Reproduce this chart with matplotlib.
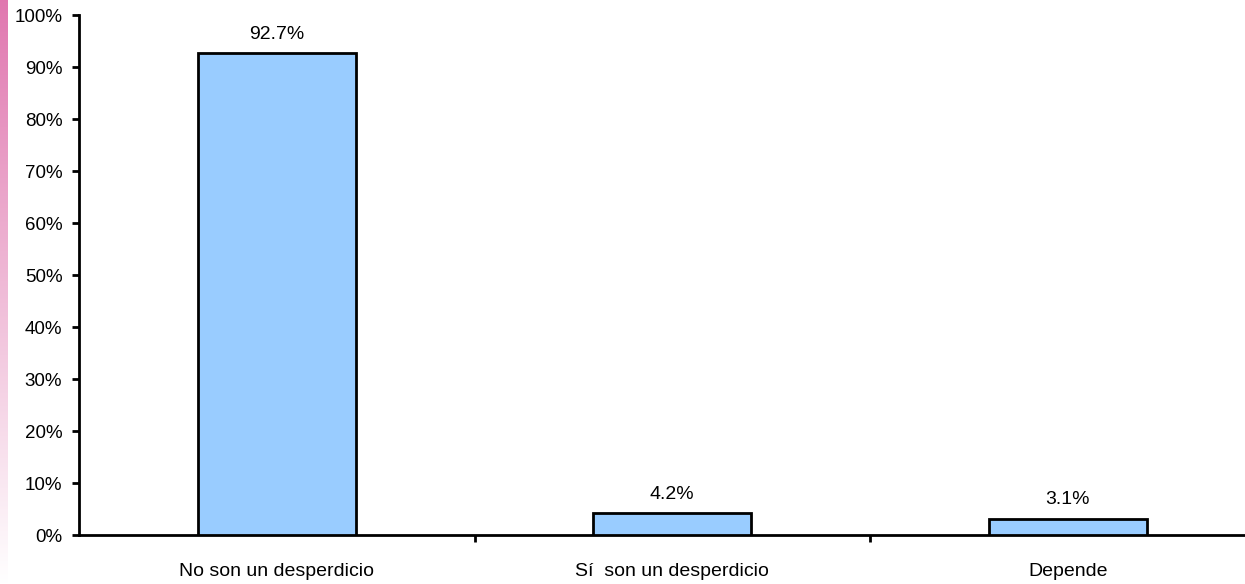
import numpy as np
import matplotlib.pyplot as plt
from matplotlib.ticker import FixedLocator, MultipleLocator, PercentFormatter

# data
categories = ["No son un desperdicio", "Sí  son un desperdicio", "Depende"]
values = [92.7, 4.2, 3.1]
value_labels = ["92.7%", "4.2%", "3.1%"]

plt.rcParams['font.family'] = ['Liberation Sans', 'DejaVu Sans']

W, H = 1245, 584
fig = plt.figure(figsize=(W / 100, H / 100), dpi=100)

# pink gradient strip on the left edge
strip = fig.add_axes([0, 0, 8 / W, 1])
grad = np.linspace(0, 1, 256).reshape(-1, 1)
top_col = np.array([0.88, 0.47, 0.69])
bot_col = np.array([1.0, 1.0, 1.0])
img = top_col * (1 - grad[..., None]) + bot_col * grad[..., None]
strip.imshow(img, aspect='auto', extent=[0, 1, 0, 1])
strip.axis('off')

left = 79 / W
bottom = (H - 535) / H
top = (H - 15) / H
ax = fig.add_axes([left, bottom, 1 - left, top - bottom])

x = np.arange(len(categories))
ax.bar(x, values, width=0.4, color='#99CCFF', edgecolor='black', linewidth=2, zorder=3)

for xi, v, lab in zip(x, values, value_labels):
    ax.text(xi, v + 2, lab, ha='center', va='bottom', fontsize=14)

ax.set_ylim(0, 100)
ax.set_xlim(-0.5, 2.448)
ax.yaxis.set_major_locator(MultipleLocator(10))
ax.yaxis.set_major_formatter(PercentFormatter(decimals=0))

# x ticks between categories, labels at centres
ax.xaxis.set_major_locator(FixedLocator([0.5, 1.5]))
ax.xaxis.set_major_formatter(plt.NullFormatter())
ax.xaxis.set_minor_locator(FixedLocator(x))
ax.set_xticklabels(categories, minor=True)
ax.tick_params(axis='x', which='minor', length=0, pad=20, labelsize=14)
ax.tick_params(axis='x', which='major', length=5, width=2, direction='out')
ax.tick_params(axis='y', length=5, width=2, direction='out', labelsize=13.5, pad=7)

for s in ['top', 'right']:
    ax.spines[s].set_visible(False)
for s in ['left', 'bottom']:
    ax.spines[s].set_linewidth(2)

fig.savefig('out.png', dpi=100)
